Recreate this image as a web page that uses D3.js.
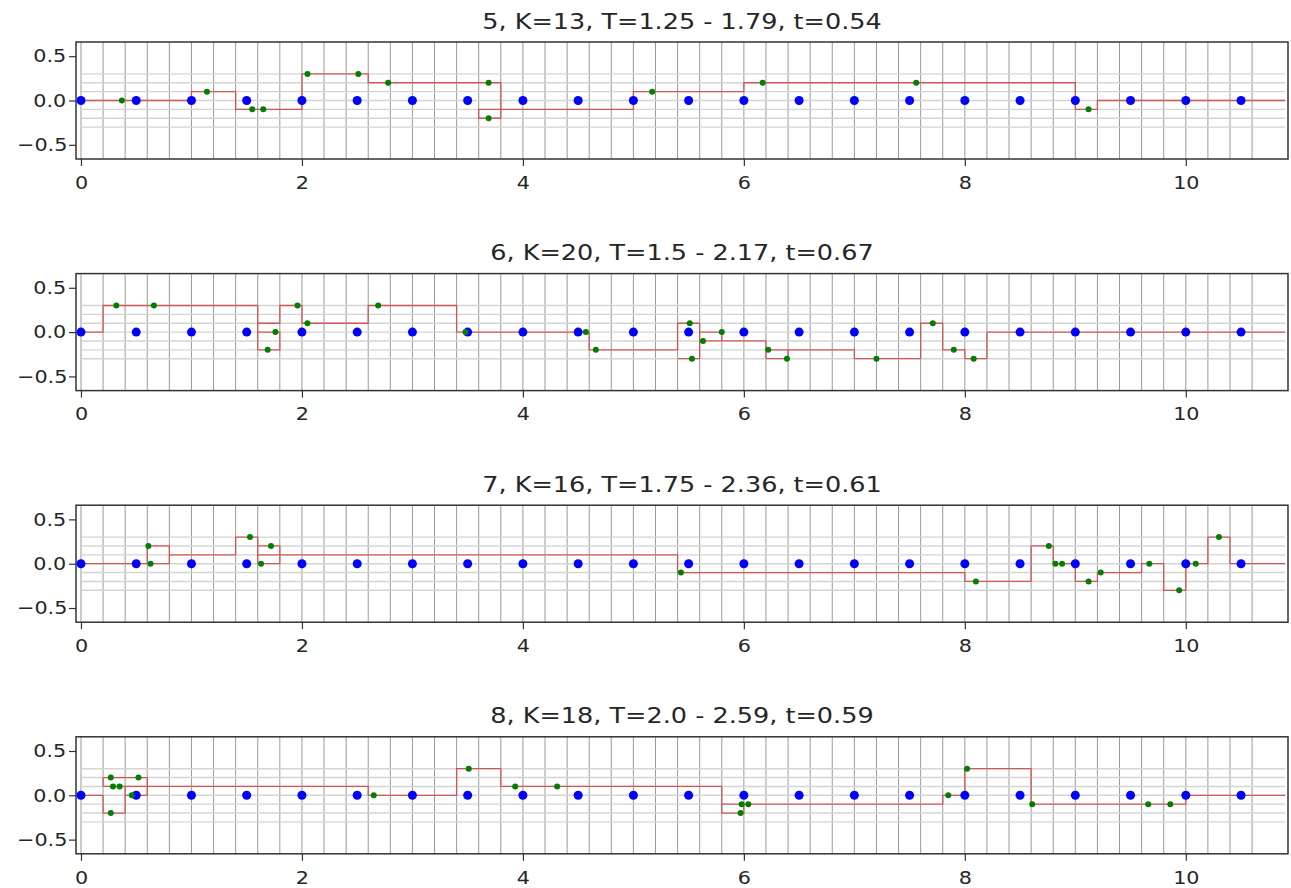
<!DOCTYPE html>
<html>
<head>
<meta charset="utf-8">
<script src="https://cdn.jsdelivr.net/npm/d3@7/dist/d3.min.js"></script>
<style>
  html, body { margin: 0; padding: 0; background: #fff; }
  svg { display: block; }
  text { font-family: "DejaVu Sans", sans-serif; fill: #262626; }
  .sx { transform-box: fill-box; transform-origin: center; }
</style>
</head>
<body>
<svg id="chart" width="1291" height="888"></svg>
<script>
// ---------------- data ----------------
const panelTitles = [
  "5, K=13, T=1.25 - 1.79, t=0.54",
  "6, K=20, T=1.5 - 2.17, t=0.67",
  "7, K=16, T=1.75 - 2.36, t=0.61",
  "8, K=18, T=2.0 - 2.59, t=0.59"
];

const blueX = [0, 0.5, 1, 1.5, 2, 2.5, 3, 3.5, 4, 4.5, 5, 5.5, 6, 6.5, 7, 7.5, 8, 8.5, 9, 9.5, 10, 10.5];
const blueY = [0, 0, 0, 0, 0, 0, 0, 0, 0, 0, 0, 0, 0, 0, 0, 0, 0, 0, 0, 0, 0, 0];

const greenX1 = [0.37, 1.14, 1.55, 1.65, 2.05, 2.51, 2.78, 3.69, 3.69, 5.17, 6.17, 7.56, 9.12];
const greenY1 = [0, 0.1, -0.1, -0.1, 0.3, 0.3, 0.2, 0.2, -0.2, 0.1, 0.2, 0.2, -0.1];
const stepX1 = [0, 1.0, 1.4, 2.0, 2.6, 3.8, 3.6, 5.0, 6.0, 9.0, 9.2, 10.9];
const stepY1 = [0, 0.1, -0.1, 0.3, 0.2, -0.2, -0.1, 0.1, 0.2, -0.1, 0, 0];

const greenX2 = [0.32, 0.66, 1.69, 1.76, 1.96, 2.05, 2.69, 3.48, 4.57, 4.66, 5.51, 5.53, 5.63, 5.80, 6.22, 6.39, 7.20, 7.71, 7.90, 8.08];
const greenY2 = [0.3, 0.3, -0.2, 0, 0.3, 0.1, 0.3, 0, 0, -0.2, 0.1, -0.3, -0.1, 0, -0.2, -0.3, -0.3, 0.1, -0.2, -0.3];
const stepX2 = [0, 0.2, 1.6, 1.8, 1.6, 1.8, 2.0, 2.6, 3.4, 4.6, 5.4, 5.6, 5.4, 5.6, 5.8, 5.6, 6.2, 6.4, 6.2, 7.0, 7.6, 7.8, 8.0, 8.2, 10.9];
const stepY2 = [0, 0.3, -0.2, 0, 0.1, 0.3, 0.1, 0.3, 0, -0.2, 0.1, -0.3, -0.3, 0, -0.1, -0.1, -0.3, -0.2, -0.2, -0.3, 0.1, -0.2, -0.3, 0, 0];

const greenX3 = [0.61, 0.63, 1.53, 1.63, 1.72, 5.43, 8.10, 8.76, 8.82, 8.88, 9.12, 9.23, 9.67, 9.94, 10.09, 10.30];
const greenY3 = [0.2, 0, 0.3, 0, 0.2, -0.1, -0.2, 0.2, 0, 0, -0.2, -0.1, 0, -0.3, 0, 0.3];
const stepX3 = [0, 0.6, 0.8, 0.6, 0.8, 1.4, 1.6, 1.8, 1.6, 5.4, 8.0, 8.6, 8.8, 9.0, 9.2, 9.6, 9.8, 10.0, 10.2, 10.4, 10.9];
const stepY3 = [0, 0.2, 0, 0, 0.1, 0.3, 0, 0.2, 0.1, -0.1, -0.2, 0.2, 0, -0.2, -0.1, 0, -0.3, 0, 0.3, 0, 0];

const greenX4 = [0.27, 0.27, 0.29, 0.35, 0.46, 0.52, 2.65, 3.51, 3.93, 4.31, 5.97, 5.98, 6.04, 7.85, 8.02, 8.61, 9.66, 9.86];
const greenY4 = [0.2, -0.2, 0.1, 0.1, 0, 0.2, 0, 0.3, 0.1, 0.1, -0.2, -0.1, -0.1, 0, 0.3, -0.1, -0.1, -0.1];
const stepX4 = [0, 0.2, 0.4, 0.2, 0.6, 0.4, 2.6, 3.4, 3.8, 5.8, 6.0, 5.8, 7.8, 8.0, 8.6, 10.0, 10.9];
const stepY4 = [0, -0.2, 0.1, 0.2, 0, 0.1, 0, 0.3, 0.1, -0.2, -0.1, -0.1, 0, 0.3, -0.1, 0, 0];

const xTicks = [0, 2, 4, 6, 8, 10];
const yTicks = [-0.5, 0, 0.5];
const hGridY = [-0.3, -0.2, -0.1, 0, 0.1, 0.2, 0.3];

// ---------------- layout ----------------
const panels = [
  { title: panelTitles[0], gx: greenX1, gy: greenY1, sx: stepX1, sy: stepY1 },
  { title: panelTitles[1], gx: greenX2, gy: greenY2, sx: stepX2, sy: stepY2 },
  { title: panelTitles[2], gx: greenX3, gy: greenY3, sx: stepX3, sy: stepY3 },
  { title: panelTitles[3], gx: greenX4, gy: greenY4, sx: stepX4, sy: stepY4 }
];

const W = 1291, H = 888;
const axLeft = 76, axRight = 1288;
const axH = 117, firstTop = 42, pitch = 231.6;

const svg = d3.select("#chart");
svg.append("rect").attr("width", W).attr("height", H).attr("fill", "#fff");

const x = d3.scaleLinear().domain([-0.045, 10.925]).range([axLeft, axRight]);
const vGridX = d3.range(0, 54).map(i => +(i * 0.2).toFixed(1));

const clipId = "clipAx";
svg.append("defs").append("clipPath").attr("id", clipId)
  .append("rect").attr("x", axLeft).attr("y", 0).attr("width", axRight - axLeft).attr("height", axH);

panels.forEach((p, i) => {
  const top = firstTop + i * pitch;
  const y = d3.scaleLinear().domain([-0.66, 0.66]).range([axH, 0]);
  const g = svg.append("g").attr("transform", `translate(0,${top})`);

  // title
  g.append("text")
    .attr("class", "sx")
    .attr("x", (axLeft + axRight) / 2)
    .attr("y", -13.5)
    .attr("text-anchor", "middle")
    .style("font-size", "22px")
    .style("transform", "scaleX(1.16)")
    .text(p.title);

  const plot = g.append("g").attr("clip-path", `url(#${clipId})`);

  // vertical grid lines
  plot.selectAll("line.vg").data(vGridX).join("line")
    .attr("class", "vg")
    .attr("x1", d => x(d)).attr("x2", d => x(d))
    .attr("y1", 0).attr("y2", axH)
    .attr("stroke", "#9a9a9a").attr("stroke-width", 1);

  // horizontal grid lines
  plot.selectAll("line.hg").data(hGridY).join("line")
    .attr("class", "hg")
    .attr("x1", x(0)).attr("x2", x(10.9))
    .attr("y1", d => y(d)).attr("y2", d => y(d))
    .attr("stroke", "#d4d4d4").attr("stroke-width", 1.4);

  // red step line
  const pts = p.sx.map((v, k) => [v, p.sy[k]]);
  const line = d3.line().x(d => x(d[0])).y(d => y(d[1])).curve(d3.curveStepAfter);
  plot.append("path").attr("d", line(pts))
    .attr("fill", "none").attr("stroke", "#d24a4a").attr("stroke-width", 1.3)
    .attr("stroke-opacity", 0.9);

  // blue points
  plot.selectAll("circle.b").data(blueX).join("circle")
    .attr("class", "b")
    .attr("cx", d => x(d)).attr("cy", (d, k) => y(blueY[k]))
    .attr("r", 4.5).attr("fill", "#0000ff");

  // green points
  plot.selectAll("circle.gr").data(p.gx).join("circle")
    .attr("class", "gr")
    .attr("cx", d => x(d)).attr("cy", (d, k) => y(p.gy[k]))
    .attr("r", 3).attr("fill", "#007f00");

  // axes
  const xa = g.append("g").attr("transform", `translate(0,${axH})`)
    .call(d3.axisBottom(x).tickValues(xTicks).tickSize(7).tickPadding(10).tickFormat(d3.format("d")));
  const ya = g.append("g").attr("transform", `translate(${axLeft},0)`)
    .call(d3.axisLeft(y).tickValues(yTicks).tickSize(7).tickPadding(5).tickFormat(d3.format(".1f")));
  [xa, ya].forEach(a => {
    a.select(".domain").remove();
    a.selectAll(".tick line").attr("stroke", "#333").attr("stroke-width", 1.2);
    a.selectAll(".tick text")
      .attr("class", "sx")
      .style("font-size", "18px")
      .style("font-family", "DejaVu Sans, sans-serif")
      .style("fill", "#262626")
      .style("transform", "scaleX(1.15)");
  });

  // frame
  g.append("rect").attr("x", axLeft).attr("y", 0)
    .attr("width", axRight - axLeft).attr("height", axH)
    .attr("fill", "none").attr("stroke", "#333").attr("stroke-width", 1.5);
});
</script>
</body>
</html>
